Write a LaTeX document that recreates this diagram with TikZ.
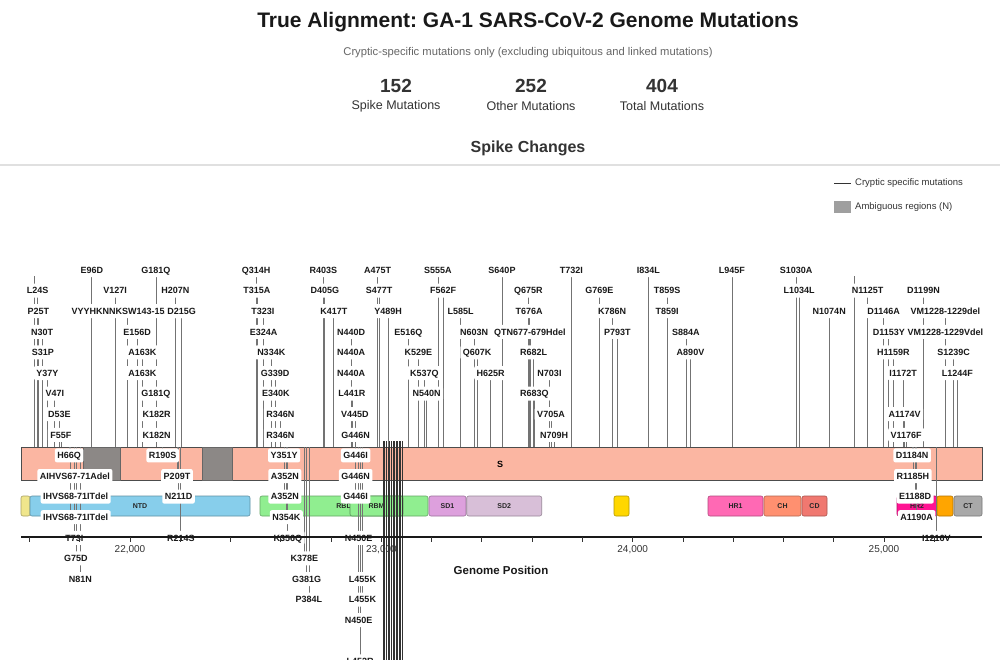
\documentclass[tikz,border=0pt]{standalone}
\usepackage{fontspec}
\setmainfont{Liberation Sans}
\frenchspacing
\pgfdeclarelayer{bgl}
\pgfdeclarelayer{bars}
\pgfdeclarelayer{lines}
\pgfsetlayers{bgl,bars,lines,main}
\definecolor{sbar}{HTML}{FBB6A2}
\definecolor{ambig}{HTML}{8C8886}
\definecolor{ntdc}{HTML}{87CEEB}
\definecolor{rbdc}{HTML}{90EE90}
\definecolor{sd1c}{HTML}{DDA0DD}
\definecolor{sd2c}{HTML}{D8BFD8}
\definecolor{khakic}{HTML}{F0E68C}
\definecolor{goldc}{HTML}{FFD700}
\definecolor{hr1c}{HTML}{FF69B4}
\definecolor{chc}{HTML}{FF9070}
\definecolor{cdc}{HTML}{F07870}
\definecolor{hr2c}{HTML}{FF1493}
\definecolor{orc}{HTML}{FFA500}
\definecolor{ctc}{HTML}{A9A9A9}
\begin{document}
\begin{tikzpicture}[x=1pt,y=-1pt,
  lab/.style={fill=white, rounded corners=2pt, inner xsep=2.5pt, inner ysep=0pt,
    minimum height=14pt, text height=6.6pt, text depth=0pt,
    font=\fontsize{9}{10}\selectfont\bfseries, text=black!90},
  mline/.style={draw=black!55, line width=0.7pt},
  clus/.style={draw=black!80, line width=0.9pt},
  dom/.style={rounded corners=2pt, line width=0.6pt, minimum height=20pt, inner sep=0pt,
    font=\fontsize{7}{8}\selectfont\bfseries, text=black!85},
  statn/.style={font=\fontsize{19}{22}\selectfont\bfseries, text=black!80},
  statl/.style={font=\fontsize{12.5}{14}\selectfont, text=black!80},
  legt/.style={font=\fontsize{9.5}{11}\selectfont, text=black!80, inner sep=0pt},
  tickl/.style={font=\fontsize{10}{12}\selectfont, text=black!80}]
\useasboundingbox (0,0) rectangle (1000,659);
\clip (0,0) rectangle (1000,659);
\begin{pgfonlayer}{bgl}
\fill[white] (0,0) rectangle (1000,659);
\end{pgfonlayer}

% header
\node[font=\fontsize{21}{24}\selectfont\bfseries, text=black!90] (title) at (528,22) {True Alignment: GA-1 SARS-CoV-2 Genome Mutations};
\node[font=\fontsize{11.2}{13}\selectfont, text=black!60] (sub) at (528,53) {Cryptic-specific mutations only (excluding ubiquitous and linked mutations)};
\node[statn] (n1) at (396,86) {152};
\node[statl] (t1) at (396,106) {Spike Mutations};
\node[statn] (n2) at (531,86) {252};
\node[statl] (t2) at (531,106) {Other Mutations};
\node[statn] (n3) at (662,86) {404};
\node[statl] (t3) at (662,106) {Total Mutations};
\node[font=\fontsize{16}{18}\selectfont\bfseries, text=black!80] (spk) at (528,148) {Spike Changes};
\coordinate (sep1) at (0,165);
\coordinate (sep2) at (1000,165);
\draw[black!12, line width=1.2pt] (sep1) -- (sep2);

% legend
\coordinate (lg1) at (834,183);
\coordinate (lg2) at (851,183);
\draw[black!80, line width=0.8pt] (lg1) -- (lg2);
\node[legt, anchor=west] (lgt1) at (855,183) {Cryptic specific mutations};
\node[fill=gray!75, minimum width=17pt, minimum height=12pt, inner sep=0pt] (lgs) at (842.5,207) {};
\node[legt, anchor=west] (lgt2) at (855,207) {Ambiguous regions (N)};

% bars and domains
\begin{pgfonlayer}{bars}
\node[draw=black!70, line width=0.8pt, fill=sbar, minimum width=961pt, minimum height=33pt, inner sep=0pt] (sbar) at (501.5,463.5) {};
\node[draw=black!60, line width=0.6pt, fill=ambig, minimum width=37pt, minimum height=33pt, inner sep=0pt] (amb1) at (101.5,463.5) {};
\node[draw=black!60, line width=0.6pt, fill=ambig, minimum width=30pt, minimum height=33pt, inner sep=0pt] (amb2) at (217,463.5) {};
\node[font=\fontsize{9}{10}\selectfont\bfseries] (stxt) at (500,464) {S};
\node[dom, fill=khakic, draw=khakic!70!black, minimum width=9pt] (d0) at (25.5,506) {};
\node[dom, fill=ntdc, draw=ntdc!70!black, minimum width=220pt] (ntd) at (140,506) {NTD};
\node[dom, fill=rbdc, draw=rbdc!70!black, minimum width=168pt] (rbd) at (344,506) {RBD};
\node[dom, fill=rbdc, draw=rbdc!60!black, minimum width=53pt] (rbm) at (376.5,506) {RBM};
\node[dom, fill=sd1c, draw=sd1c!70!black, minimum width=37pt] (sd1) at (447.5,506) {SD1};
\node[dom, fill=sd2c, draw=sd2c!70!black, minimum width=75pt] (sd2) at (504.2,506) {SD2};
\node[dom, fill=goldc, draw=goldc!70!black, minimum width=15pt] (d1) at (621.5,506) {};
\node[dom, fill=hr1c, draw=hr1c!70!black, minimum width=55pt] (hr1) at (735.5,506) {HR1};
\node[dom, fill=chc, draw=chc!70!black, minimum width=37pt] (ch) at (782.5,506) {CH};
\node[dom, fill=cdc, draw=cdc!70!black, minimum width=25pt] (cd) at (814.5,506) {CD};
\node[dom, fill=hr2c, draw=hr2c!70!black, minimum width=40pt] (hr2) at (917,506) {HR2};
\node[dom, fill=orc, draw=orc!70!black, minimum width=16pt] (d2) at (945,506) {};
\node[dom, fill=ctc, draw=ctc!70!black, minimum width=28pt] (ct) at (968,506) {CT};
\node[tickl] (x22) at (130,549.5) {22,000};
\node[tickl] (x23) at (381.4,549.5) {23,000};
\node[tickl] (x24) at (632.7,549.5) {24,000};
\node[tickl] (x25) at (884,549.5) {25,000};
\node[font=\fontsize{11.5}{13}\selectfont\bfseries, text=black!90] (gp) at (501,570) {Genome Position};
\end{pgfonlayer}

% extra unlabeled mutation lines
\begin{pgfonlayer}{lines}
\foreach \cx [count=\j] in {383,384.5,386,388,389.5,391,393,394.5,396,397.5,399,400.5,402}{
  \coordinate (cA\j) at (\cx,441);
  \coordinate (cB\j) at (\cx,670);
  \draw[clus] (cA\j) -- (cB\j);
}
\foreach \cx [count=\j] in {34,854}{
  \coordinate (uA\j) at (\cx,276);
  \coordinate (uB\j) at (\cx,447);
  \draw[mline] (uA\j) -- (uB\j);
}
\end{pgfonlayer}

% mutations: aa / row / label / dx
\foreach \aa/\r/\t/\dx [count=\i] in {
96/0/E96D/0, 181/0/G181Q/0, 314/0/Q314H/0, 403/0/R403S/0, 475/0/A475T/0, 555/0/S555A/0, 640/0/S640P/0, 732/0/T732I/0, 834/0/I834L/0, 945/0/L945F/0, 1030/0/S1030A/0,
24/1/L24S/0, 127/1/V127I/0, 207/1/H207N/0, 315/1/T315A/0, 405/1/D405G/0, 477/1/S477T/0, 562/1/F562F/0, 675/1/Q675R/0, 769/1/G769E/0, 859/1/T859S/0, 1034/1/L1034L/0, 1125/1/N1125T/0, 1199/1/D1199N/0,
25/2/P25T/0, 143/2/VYYHKNNKSW143-152del/0, 215/2/D215G/0, 323/2/T323I/0, 417/2/K417T/0, 489/2/Y489H/0, 585/2/L585L/0, 676/2/T676A/0, 786/2/K786N/0, 859/2/T859I/0, 1074/2/N1074N/0, 1146/2/D1146A/0, 1228/2/VM1228-1229del/0,
30/3/N30T/0, 156/3/E156D/0, 324/3/E324A/0, 440/3/N440D/0, 516/3/E516Q/0, 603/3/N603N/0, 677/3/QTN677-679Hdel/0, 793/3/P793T/0, 884/3/S884A/0, 1153/3/D1153Y/0, 1228/3/VM1228-1229Vdel/0,
31/4/S31P/0, 163/4/A163K/0, 334/4/N334K/0, 440/4/N440A/0, 529/4/K529E/0, 607/4/Q607K/0, 682/4/R682L/0, 890/4/A890V/0, 1159/4/H1159R/0, 1239/4/S1239C/0,
37/5/Y37Y/0, 163/5/A163K/0, 339/5/G339D/0, 440/5/N440A/0, 537/5/K537Q/0, 625/5/H625R/0, 703/5/N703I/0, 1172/5/I1172T/0, 1244/5/L1244F/0,
47/6/V47I/0, 181/6/G181Q/0, 340/6/E340K/0, 441/6/L441R/0, 540/6/N540N/0, 683/6/R683Q/0,
53/7/D53E/0, 182/7/K182R/0, 346/7/R346N/0, 445/7/V445D/0, 705/7/V705A/0, 1174/7/A1174V/0,
55/8/F55F/0, 182/8/K182N/0, 346/8/R346N/0, 446/8/G446N/0, 709/8/N709H/0, 1176/8/V1176F/0,
66/9/H66Q/0, 190/9/R190S/0, 351/9/Y351Y/0, 446/9/G446I/0, 1184/9/D1184N/0,
67/10/AIHVS67-71Adel/5, 209/10/P209T/0, 352/10/A352N/0, 446/10/G446N/0, 1185/10/R1185H/0,
68/11/IHVS68-71ITdel/5, 211/11/N211D/0, 352/11/A352N/0, 446/11/G446I/0, 1188/11/E1188D/0,
68/12/IHVS68-71ITdel/5, 354/12/N354K/0, 1190/12/A1190A/0,
73/13/T73I/0, 214/13/R214S/0, 356/13/K356Q/0, 450/13/N450E/0, 1216/13/I1216V/0,
75/14/G75D/0, 378/14/K378E/0,
81/15/N81N/0, 381/15/G381G/0, 455/15/L455K/0,
384/16/P384L/0, 455/16/L455K/0,
450/17/N450E/0,
452/19/L452R/0}{
  \pgfmathsetmacro\xx{130+(3*\aa-440)*0.25135}
  \pgfmathsetmacro\yy{270+20.6*\r}
  \coordinate (b\i) at (\xx,447);
  \coordinate (e\i) at (\xx,\yy);
  \begin{pgfonlayer}{lines}
    \draw[mline] (b\i) -- (e\i);
  \end{pgfonlayer}
  \node[lab] (m\i) at (\xx+\dx,\yy) {\t};
}

% axis
\coordinate (ax0) at (21,537);
\coordinate (ax1) at (982,537);
\draw[black!90, line width=1.8pt] (ax0) -- (ax1);
\foreach \k in {0,...,18}{
  \draw[black!80, line width=0.8pt] ({29.46+50.27*\k},537) -- ({29.46+50.27*\k},541.5);
}
\end{tikzpicture}
\end{document}
